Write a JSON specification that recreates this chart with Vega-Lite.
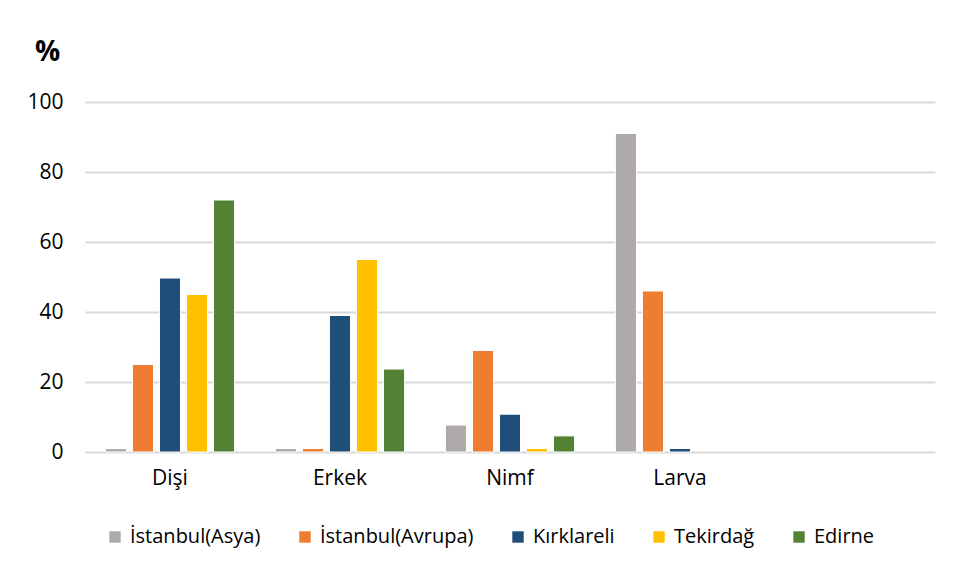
{
  "$schema": "https://vega.github.io/schema/vega-lite/v6.json",
  "autosize": "none",
  "width": 850,
  "height": 350,
  "padding": {"left": 85, "top": 102, "right": 25, "bottom": 124},
  "background": "white",
  "config": {
    "view": {"stroke": null},
    "font": "Open Sans",
    "axis": {"labelFont": "Open Sans", "labelFontSize": 21, "labelColor": "#000000"},
    "legend": {"labelFont": "Open Sans", "labelFontSize": 20, "labelColor": "#000000"}
  },
  "data": {
    "values": [
      {"category": "Dişi", "location": "İstanbul(Asya)", "value": 1},
      {"category": "Dişi", "location": "İstanbul(Avrupa)", "value": 25},
      {"category": "Dişi", "location": "Kırklareli", "value": 49.7},
      {"category": "Dişi", "location": "Tekirdağ", "value": 45},
      {"category": "Dişi", "location": "Edirne", "value": 72},
      {"category": "Erkek", "location": "İstanbul(Asya)", "value": 1},
      {"category": "Erkek", "location": "İstanbul(Avrupa)", "value": 1},
      {"category": "Erkek", "location": "Kırklareli", "value": 39},
      {"category": "Erkek", "location": "Tekirdağ", "value": 55},
      {"category": "Erkek", "location": "Edirne", "value": 23.7},
      {"category": "Nimf", "location": "İstanbul(Asya)", "value": 7.7},
      {"category": "Nimf", "location": "İstanbul(Avrupa)", "value": 29},
      {"category": "Nimf", "location": "Kırklareli", "value": 10.8},
      {"category": "Nimf", "location": "Tekirdağ", "value": 1},
      {"category": "Nimf", "location": "Edirne", "value": 4.6},
      {"category": "Larva", "location": "İstanbul(Asya)", "value": 91},
      {"category": "Larva", "location": "İstanbul(Avrupa)", "value": 46},
      {"category": "Larva", "location": "Kırklareli", "value": 1}
    ]
  },
  "mark": {"type": "bar", "stroke": "white", "strokeWidth": 1},
  "encoding": {
    "x": {
      "field": "category",
      "type": "nominal",
      "scale": {"domain": ["Dişi", "Erkek", "Nimf", "Larva", " "], "paddingInner": 0.24, "paddingOuter": 0.12},
      "axis": {"title": null, "labelAngle": 0, "domain": false, "ticks": false, "labelPadding": 26, "labelBaseline": "middle"}
    },
    "xOffset": {
      "field": "location",
      "type": "nominal",
      "scale": {"domain": ["İstanbul(Asya)", "İstanbul(Avrupa)", "Kırklareli", "Tekirdağ", "Edirne"], "paddingInner": 0.22}
    },
    "y": {
      "field": "value",
      "type": "quantitative",
      "scale": {"domain": [0, 100], "nice": false},
      "axis": {
        "values": [0, 20, 40, 60, 80, 100],
        "title": "%",
        "titleAngle": 0,
        "titleFontSize": 28,
        "titleFontWeight": "bold",
        "titleX": -38,
        "titleY": -50,
        "titleAlign": "center",
        "titleBaseline": "middle",
        "domain": false,
        "ticks": false,
        "labelPadding": 22,
        "gridColor": "#D9D9D9",
        "gridWidth": 2
      }
    },
    "color": {
      "field": "location",
      "type": "nominal",
      "scale": {
        "domain": ["İstanbul(Asya)", "İstanbul(Avrupa)", "Kırklareli", "Tekirdağ", "Edirne"],
        "range": ["#AEAAAA", "#ED7D31", "#1F4E79", "#FFC000", "#548235"]
      },
      "legend": {
        "title": null,
        "orient": "none",
        "direction": "horizontal",
        "legendX": 20,
        "legendY": 425,
        "symbolType": "square",
        "symbolSize": 130,
        "symbolStrokeWidth": 0,
        "labelOffset": 5,
        "columnPadding": 34
      }
    }
  }
}
